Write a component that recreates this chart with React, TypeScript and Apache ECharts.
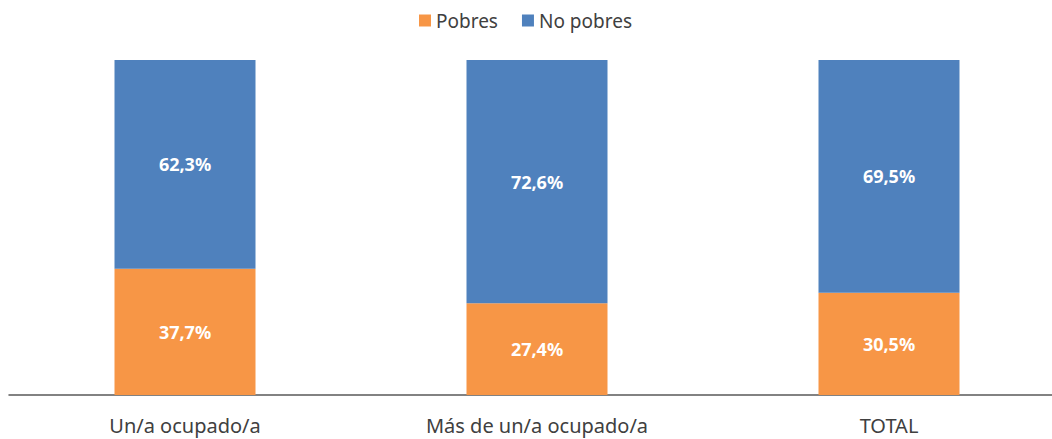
import React, { useEffect, useRef } from "react";
import * as echarts from "echarts";

const categories = ["Un/a ocupado/a", "Más de un/a ocupado/a", "TOTAL"];
const pobres = [37.7, 27.4, 30.5];
const noPobres = [62.3, 72.6, 69.5];

const FONT = "'Noto Sans', 'Open Sans', sans-serif";

export default function App() {
  const ref = useRef<HTMLDivElement>(null);
  useEffect(() => {
    if (!ref.current) return;
    const chart = echarts.init(ref.current, undefined, { renderer: "svg" });
    const label = {
      show: true,
      position: "inside",
      color: "#ffffff",
      fontWeight: "bold",
      fontSize: 18,
      fontFamily: FONT,
      formatter: (p: any) => p.value.toFixed(1).replace(".", ",") + "%",
    };
    chart.setOption({
      animation: false,
      legend: {
        top: 6,
        left: 414,
        itemWidth: 12,
        itemHeight: 12,
        itemGap: 24,
        icon: "rect",
        textStyle: { fontSize: 19, color: "#404040", fontFamily: FONT },
        data: ["Pobres", "No pobres"],
      },
      grid: { left: 9, right: 0, top: 60, bottom: 44 },
      xAxis: {
        type: "category",
        data: categories,
        axisLine: { lineStyle: { color: "#595959", width: 1.5 } },
        axisTick: { show: false },
        axisLabel: { fontSize: 20, color: "#404040", margin: 20, fontFamily: FONT },
      },
      yAxis: {
        type: "value",
        min: 0,
        max: 100,
        show: false,
      },
      series: [
        {
          name: "Pobres",
          type: "bar",
          stack: "s",
          data: pobres,
          barWidth: 141,
          itemStyle: { color: "#F79646" },
          label,
        },
        {
          name: "No pobres",
          type: "bar",
          stack: "s",
          data: noPobres,
          barWidth: 141,
          itemStyle: { color: "#4F81BD" },
          label,
        },
      ],
    });
    return () => chart.dispose();
  }, []);
  return (
    <div style={{ position: "fixed", left: 0, top: 0, width: 1052, height: 439, overflow: "hidden", background: "#fff" }}>
      <div ref={ref} style={{ width: 1065, height: 439 }} />
    </div>
  );
}
